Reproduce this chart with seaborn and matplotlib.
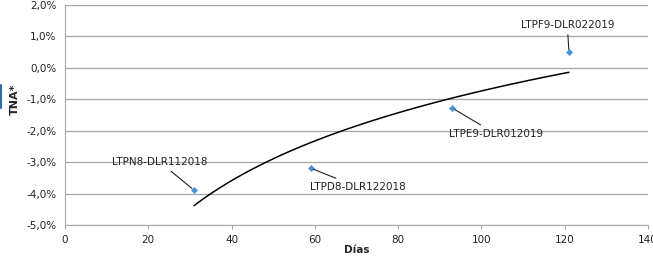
import matplotlib
matplotlib.use("Agg")
import numpy as np
import pandas as pd
import seaborn as sns
from matplotlib import pyplot as plt
from matplotlib.ticker import FuncFormatter

# bonds: days to maturity vs TNA (%)
bonds = ["LTPN8-DLR112018", "LTPD8-DLR122018", "LTPE9-DLR012019", "LTPF9-DLR022019"]
dias = [31, 59, 93, 121]
tna = [-3.89, -3.19, -1.28, 0.50]
# label positions (data coords)
label_x = [22.8, 70.3, 103.4, 120.6]
label_y = [-3.0, -3.79, -2.10, 1.36]

df = pd.DataFrame({"bono": bonds, "dias": dias, "tna": tna})

sns.set_style("white")
plt.rcParams["font.family"] = ["DejaVu Sans"]

fig = plt.figure(figsize=(6.53, 2.59), dpi=100)
ax = fig.add_axes([0.0995, 0.131, 0.893, 0.850])

# logarithmic trendline
sns.regplot(data=df, x="dias", y="tna", logx=True, ci=None, scatter=False,
            truncate=True, line_kws={"color": "black", "lw": 1.1}, ax=ax)
sns.scatterplot(data=df, x="dias", y="tna", marker="D", s=11, color="#4a90d9",
                edgecolor="#4a90d9", ax=ax, zorder=3)

for name, x, y, lx, ly in zip(bonds, dias, tna, label_x, label_y):
    ax.annotate(name, xy=(x, y), xytext=(lx, ly), ha="center", va="center",
                fontsize=7.5, color="#222222",
                arrowprops=dict(arrowstyle="-", color="#222222", lw=0.8,
                                shrinkA=1, shrinkB=2))

ax.set_xlim(0, 140)
ax.set_ylim(-5, 2)
ax.set_xticks(range(0, 141, 20))
ax.set_yticks(np.arange(-5, 2.1, 1))
ax.yaxis.set_major_formatter(FuncFormatter(lambda v, p: f"{v:.1f}%".replace(".", ",")))
ax.grid(axis="y", color="#a6a6a6", lw=0.9)
ax.set_axisbelow(True)
for s in ["top", "right"]:
    ax.spines[s].set_visible(False)
for s in ["left", "bottom"]:
    ax.spines[s].set_color("#a6a6a6")
ax.tick_params(axis="x", length=3, color="#a6a6a6", labelsize=7.5, labelcolor="#222222", pad=4)
ax.tick_params(axis="y", length=0, labelsize=7.5, labelcolor="#222222", pad=6)
ax.tick_params(axis="x", direction="out", bottom=True)

ax.set_xlabel("Días", fontsize=7.5, fontweight="bold", labelpad=0)
ax.set_ylabel("TNA*", fontsize=8, fontweight="bold")
ax.yaxis.set_label_coords(-0.078, 0.57)

# small blue bar at left edge
fig.add_artist(plt.Line2D([0.002, 0.002], [1 - 85 / 259, 1 - 108 / 259],
                          color="#2e6db4", lw=1.5))

fig.savefig("out.png", dpi=100)
